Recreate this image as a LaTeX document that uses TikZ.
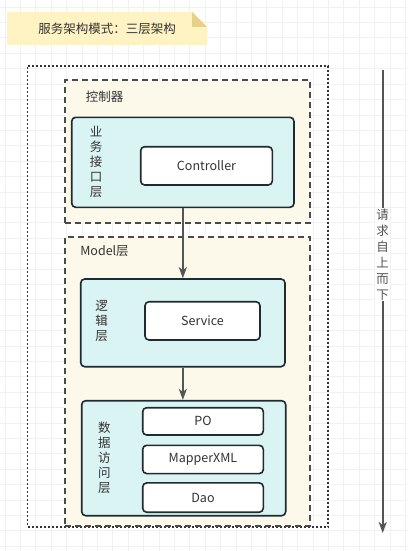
\documentclass[tikz,border=0pt]{standalone}
\usepackage{fontspec}
\setmainfont{Noto Sans CJK SC}
\usepackage{tikz}
\usetikzlibrary{positioning,arrows.meta}

\definecolor{noteYellow}{HTML}{FFF2C3}
\definecolor{noteFold}{HTML}{E6D08A}
\definecolor{layerFill}{HTML}{FCF8EA}
\definecolor{boxCyan}{HTML}{D9F4F3}
\definecolor{lineDark}{HTML}{1E2B33}
\definecolor{textGray}{HTML}{333333}
\definecolor{dashGray}{HTML}{4A4A4A}
\definecolor{arrowGray}{HTML}{555555}
\definecolor{gridGray}{HTML}{F1F1F1}

\begin{document}
\begin{tikzpicture}[x=1pt,y=-1pt,
		font=\fontsize{12.5}{15}\selectfont, text=textGray,
		gridline/.style={gridGray, line width=0.8pt},
		outerbox/.style={draw=textGray, line width=1.8pt, dash pattern=on 2pt off 2pt, inner sep=0pt},
		layer/.style={draw=dashGray, fill=layerFill, line width=1.8pt, dash pattern=on 6pt off 4pt, inner sep=0pt},
		part/.style={draw=lineDark, fill=boxCyan, line width=1.6pt, rounded corners=4pt, inner sep=0pt},
		item/.style={draw=lineDark, fill=white, line width=1.6pt, rounded corners=4pt, inner sep=0pt},
		vlabel/.style={align=center, inner sep=0pt},
		flow/.style={-{Stealth[width=8pt,length=11pt,inset=3pt]}, arrowGray, line width=1.6pt}]
		\useasboundingbox (0,0) rectangle (407,551);
		\fill[white] (0,0) rectangle (407,551);
		\foreach \k in {0,...,26}
			\draw[gridline] ({4.9+15.4*\k},0) -- ++(0,551);
		\foreach \k in {0,...,35}
			\draw[gridline] (0,{7.1+15.4*\k}) -- ++(407,0);
		
		\fill[noteYellow] (7,12) -- (192,12) -- (207,27) -- (207,45) -- (7,45) -- cycle;
		\fill[noteFold] (192,12) -- (192,27) -- (207,27) -- cycle;
		\node (Title) at (107,28.5) {服务架构模式：三层架构};
		
		\node[outerbox, minimum width=300.5pt, minimum height=461.3pt] (Request) at (177.75,296.35) {};
		\node[layer, minimum width=245pt, minimum height=143pt] (ControlLayer) at (187.5,151.5) {};
		\node[layer, minimum width=245pt, minimum height=289pt] (ModelLayer) at (187.5,381.5) {};
		\node (ControlName) at (104.5,97) {控制器};
		\node (ModelName) at (104.5,250.7) {Model层};
		
		\node[part, minimum width=222.3pt, minimum height=90pt] (ApiPart) at (182.85,162.3) {};
		\node[part, minimum width=204.3pt, minimum height=87.7pt] (LogicPart) at (182.85,322.85) {};
		\node[part, minimum width=204pt, minimum height=115pt] (DaoPart) at (183.7,458.2) {};
		\node[vlabel] (ApiName) at (96,161.7) {业\\务\\接\\口\\层};
		\node[vlabel] (LogicName) at (101.7,320.7) {逻\\辑\\层};
		\node[vlabel] (DaoName) at (104.3,458) {数\\据\\访\\问\\层};
		
		\node[item, minimum width=131.6pt, minimum height=38.3pt] (Controller) at (206.5,165.85) {Controller};
		\node[item, minimum width=115pt, minimum height=38.3pt] (Service) at (202.5,320.85) {Service};
		\node[item, minimum width=120.6pt, minimum height=27.3pt] (PO) at (203,421.35) {PO};
		\node[item, minimum width=120.6pt, minimum height=28.3pt] (Mapper) [below=8.7pt of PO] {MapperXML};
		\node[item, minimum width=120.6pt, minimum height=29.3pt] (Dao) [below=7.7pt of Mapper] {Dao};
		
		\path[flow]
		(ApiPart.south) edge (LogicPart.north)
		(LogicPart.south) edge (LogicPart.south |- DaoPart.north);
		
		\coordinate (ReqTop) at (382.7,70);
		\coordinate (ReqEnd) at (382.7,533);
		\draw[flow] (ReqTop) -- (ReqEnd)
			node[pos=0.399, fill=white, align=center, inner xsep=1pt, inner ysep=1pt, font=\fontsize{12.5}{16}\selectfont] (ReqName) {请\\求\\自\\上\\而\\下};
\end{tikzpicture}
\end{document}
